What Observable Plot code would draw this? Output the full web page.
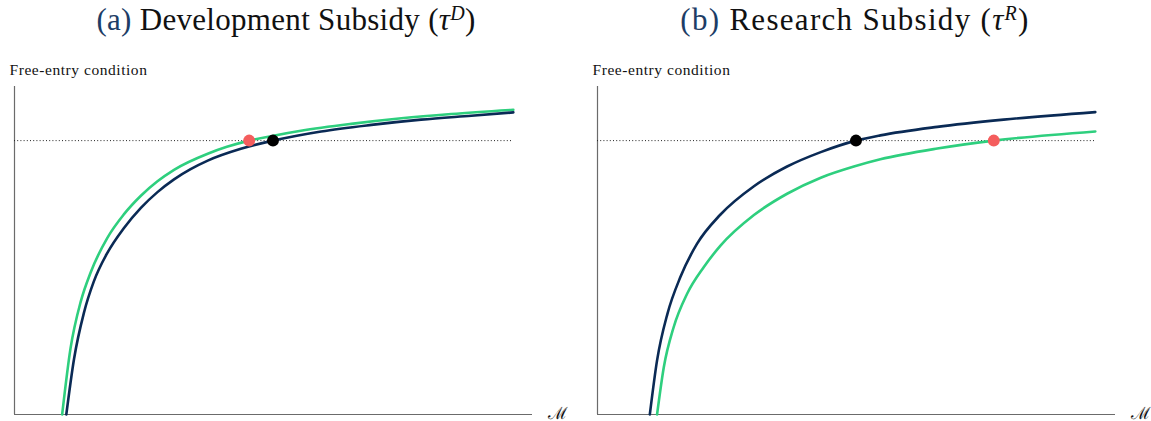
<!DOCTYPE html>
<html>
<head>
<meta charset="utf-8">
<script src="https://cdn.jsdelivr.net/npm/d3@7"></script>
<script src="https://cdn.jsdelivr.net/npm/@observablehq/plot@0.6"></script>
<style>
  html, body { margin: 0; padding: 0; background: #fff; }
  #wrap { position: relative; width: 1151px; height: 421px; overflow: hidden; }
  .panel { position: absolute; top: 0; width: 568px; height: 421px; }
  .title { position: absolute; top: 3px; right: 0; text-align: center;
           font-family: "Liberation Serif", "DejaVu Serif", serif; font-size: 31px; line-height: 34px; color: #111; white-space: nowrap; }
  .title .lab { color: #1d3d66; }
  .title i { font-style: italic; }
  .title sup { font-size: 20px; vertical-align: 0; position: relative; top: -10px; }
  .plot { position: absolute; top: 50px; left: 0; }
  .plot svg g[aria-label="text"] text { letter-spacing: 0.55px; }
</style>
</head>
<body>
<div id="wrap">
  <div class="panel" id="pa" style="left:0px"><div class="title" style="left:4px; letter-spacing:0.3px"><span class="lab">(a)</span> Development Subsidy (<i>τ</i><sup><i>D</i></sup>)</div><div class="plot"></div></div>
  <div class="panel" id="pb" style="left:583px"><div class="title" style="left:-24px; letter-spacing:1.3px"><span class="lab">(b)</span> Research Subsidy (<i>τ</i><sup><i>R</i></sup>)</div><div class="plot"></div></div>
</div>
<script>
// Panel (a): development subsidy — baseline (navy) and subsidised (green) free-entry curves
const aBaseM   = [10.0, 11.5, 13.4, 15.3, 17.9, 21.1, 24.4, 27.6, 30.8, 34.0, 37.3, 43.7, 49.9, 54.5, 59.2, 68.9, 78.5, 88.2, 96.3];
const aBaseV   = [0, 17, 31, 40.5, 49.2, 56.8, 63.0, 67.8, 71.7, 74.8, 77.4, 81.0, 83.5, 85.0, 86.3, 88.3, 89.9, 91.1, 92.1];
const aSubM    = [9.2, 10.8, 12.8, 14.7, 17.9, 21.1, 24.4, 27.6, 30.8, 37.3, 41.0, 45.3, 50.0, 55.3, 65.0, 74.7, 84.3, 96.3];
const aSubV    = [0, 20, 34.5, 43.3, 53.8, 61.0, 66.7, 71.1, 74.6, 79.5, 81.6, 83.5, 85.0, 86.5, 88.6, 90.3, 91.6, 92.9];
const aEqBase  = [49.9, 83.5];
const aEqSub   = [45.3, 83.5];

// Panel (b): research subsidy
const bBaseM   = [10.1, 11.5, 13.5, 16.0, 19.2, 23.7, 30.2, 36.6, 43.1, 49.9, 54.6, 65.6, 78.4, 96.1];
const bBaseV   = [0, 16.5, 30.7, 41.9, 52.0, 60.9, 69.6, 75.6, 80.0, 83.5, 85.1, 87.7, 89.9, 92.2];
const bSubM    = [11.5, 12.8, 14.7, 17.3, 20.5, 23.7, 30.2, 36.6, 43.1, 49.5, 54.6, 65.6, 76.5, 96.1];
const bSubV    = [0, 14.4, 26.6, 36.8, 44.9, 51.4, 60.8, 67.3, 72.2, 75.6, 77.8, 81.1, 83.5, 86.3];
const bEqBase  = [49.9, 83.5];
const bEqSub   = [76.5, 83.5];

const freeEntryLevel = 83.5;
const lineEnd = 96.2;
const yLabel = "Free-entry condition";
const xLabel = "ℳ";

const NAVY = "#0a2a55", GREEN = "#2ecf7e", RED = "#f45d5d", AXIS = "#6b6b6b";

function zip(ms, vs) { return ms.map((m, i) => ({M: m, V: vs[i]})); }

function panel(baseM, baseV, subM, subV, eqBase, eqSub) {
  return Plot.plot({
    width: 568, height: 371,
    marginLeft: 14, marginRight: 36, marginTop: 36, marginBottom: 7,
    x: {domain: [0, 100], axis: null},
    y: {domain: [0, 100], axis: null},
    style: {background: "#fff", overflow: "visible"},
    marks: [
      Plot.ruleX([0], {stroke: AXIS, strokeWidth: 1.2}),
      Plot.ruleY([0], {stroke: AXIS, strokeWidth: 1.2}),
      Plot.ruleY([freeEntryLevel], {x1: 0, x2: lineEnd, stroke: "#222", strokeWidth: 1, strokeDasharray: "1,2.2"}),
      Plot.line(zip(subM, subV), {x: "M", y: "V", stroke: GREEN, strokeWidth: 2.6, curve: "monotone-x"}),
      Plot.line(zip(baseM, baseV), {x: "M", y: "V", stroke: NAVY, strokeWidth: 2.6, curve: "monotone-x"}),
      Plot.dot([{M: eqSub[0], V: eqSub[1]}], {x: "M", y: "V", r: 6, fill: RED}),
      Plot.dot([{M: eqBase[0], V: eqBase[1]}], {x: "M", y: "V", r: 6, fill: "#000"}),
      Plot.text([yLabel], {frameAnchor: "top-left", textAnchor: "start", lineAnchor: "bottom", dx: -5, dy: -12, fontSize: 15.5, fontFamily: "Liberation Serif, serif", fill: "#111"}),
      Plot.text([xLabel], {frameAnchor: "bottom-right", textAnchor: "start", lineAnchor: "bottom", dx: 15, dy: 4, fontSize: 17, fontFamily: "DejaVu Serif, serif", fill: "#111"})
    ]
  });
}

document.querySelector("#pa .plot").appendChild(panel(aBaseM, aBaseV, aSubM, aSubV, aEqBase, aEqSub));
document.querySelector("#pb .plot").appendChild(panel(bBaseM, bBaseV, bSubM, bSubV, bEqBase, bEqSub));
</script>
</body>
</html>
